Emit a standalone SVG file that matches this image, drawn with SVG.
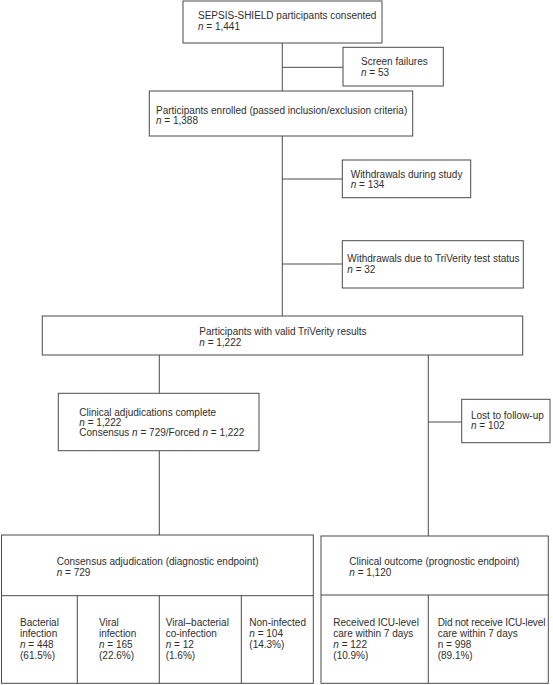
<svg xmlns="http://www.w3.org/2000/svg" width="553" height="685" viewBox="0 0 553 685">
<style>
.box{fill:#fff;stroke:#4a4a4a;stroke-width:1}
.ln{stroke:#4a4a4a;stroke-width:1;fill:none}
text{font-family:"Liberation Sans",Arial,sans-serif;font-size:10px;fill:#2e2e2e}
.i{font-style:italic}
.t{letter-spacing:-0.12px}
</style>
<rect width="553" height="685" fill="#fff"/>
<g id="connectors">
<line class="ln" x1="282.3" y1="43" x2="282.3" y2="91"/>
<line class="ln" x1="282.3" y1="67.3" x2="343" y2="67.3"/>
<line class="ln" x1="282.3" y1="136" x2="282.3" y2="316"/>
<line class="ln" x1="282.3" y1="179" x2="342.3" y2="179"/>
<line class="ln" x1="282.3" y1="264" x2="342.3" y2="264"/>
<line class="ln" x1="159.3" y1="355" x2="159.3" y2="393.3"/>
<line class="ln" x1="159.3" y1="450.7" x2="159.3" y2="535"/>
<line class="ln" x1="428.3" y1="355" x2="428.3" y2="536"/>
<line class="ln" x1="428.3" y1="422" x2="461.7" y2="422"/>
</g>
<g id="consented">
<rect class="box" x="183" y="1" width="199" height="42"/>
<text x="198" y="19.3">SEPSIS-SHIELD participants consented</text>
<text x="198" y="29.8"><tspan class="i">n</tspan> = 1,441</text>
</g>
<g id="screen-failures">
<rect class="box" x="343" y="47.3" width="100.3" height="38.7"/>
<text x="361" y="65">Screen failures</text>
<text x="361" y="75.5"><tspan class="i">n</tspan> = 53</text>
</g>
<g id="enrolled">
<rect class="box" x="149.3" y="91" width="263.4" height="45"/>
<text x="156" y="113.5">Participants enrolled (passed inclusion/exclusion criteria)</text>
<text x="156" y="123.5"><tspan class="i">n</tspan> = 1,388</text>
</g>
<g id="withdrawals-study">
<rect class="box" x="342.3" y="160" width="128.4" height="37.7"/>
<text x="350.7" y="177.5">Withdrawals during study</text>
<text x="350.7" y="188"><tspan class="i">n</tspan> = 134</text>
</g>
<g id="withdrawals-triverity">
<rect class="box" x="342.3" y="240.7" width="181" height="47.3"/>
<text x="347.3" y="262">Withdrawals due to TriVerity test status</text>
<text x="347.3" y="272.5"><tspan class="i">n</tspan> = 32</text>
</g>
<g id="valid-results">
<rect class="box" x="42.3" y="316" width="480.4" height="39"/>
<text x="199.3" y="334.5">Participants with valid TriVerity results</text>
<text x="199.3" y="345.5"><tspan class="i">n</tspan> = 1,222</text>
</g>
<g id="adjudications">
<rect class="box" x="58.3" y="393.3" width="200.7" height="57.4"/>
<text x="79.3" y="415.5">Clinical adjudications complete</text>
<text x="79.3" y="426"><tspan class="i">n</tspan> = 1,222</text>
<text x="79.3" y="436.3">Consensus <tspan class="i">n</tspan> = 729/Forced <tspan class="i">n</tspan> = 1,222</text>
</g>
<g id="lost-follow-up">
<rect class="box" x="461.7" y="399.3" width="88.3" height="43.4"/>
<text x="471" y="418.5">Lost to follow-up</text>
<text x="471" y="429"><tspan class="i">n</tspan> = 102</text>
</g>
<g id="diagnostic">
<rect class="box" x="1.5" y="535" width="311.8" height="148.3"/>
<line class="ln" x1="1.5" y1="595.7" x2="313.3" y2="595.7"/>
<line class="ln" x1="77.3" y1="595.7" x2="77.3" y2="683.3"/>
<line class="ln" x1="159.3" y1="595.7" x2="159.3" y2="683.3"/>
<line class="ln" x1="241.3" y1="595.7" x2="241.3" y2="683.3"/>
<text x="56.7" y="565">Consensus adjudication (diagnostic endpoint)</text>
<text x="56.7" y="575.5"><tspan class="i">n</tspan> = 729</text>
<text x="20" y="626">Bacterial</text>
<text x="20" y="637">infection</text>
<text x="20" y="648"><tspan class="i">n</tspan> = 448</text>
<text x="20" y="659">(61.5%)</text>
<text x="99" y="626">Viral</text>
<text x="99" y="637">infection</text>
<text x="99" y="648"><tspan class="i">n</tspan> = 165</text>
<text x="99" y="659">(22.6%)</text>
<text x="165.7" y="626">Viral–bacterial</text>
<text x="165.7" y="637">co-infection</text>
<text x="165.7" y="648"><tspan class="i">n</tspan> = 12</text>
<text x="165.7" y="659">(1.6%)</text>
<text x="249.3" y="626">Non-infected</text>
<text x="249.3" y="637"><tspan class="i">n</tspan> = 104</text>
<text x="249.3" y="648">(14.3%)</text>
</g>
<g id="prognostic">
<rect class="box" x="321" y="536" width="227.3" height="147.3"/>
<line class="ln" x1="321" y1="595" x2="548.3" y2="595"/>
<line class="ln" x1="428.3" y1="595" x2="428.3" y2="683.3"/>
<text x="349.3" y="565">Clinical outcome (prognostic endpoint)</text>
<text x="349.3" y="575.5"><tspan class="i">n</tspan> = 1,120</text>
<text x="333.3" y="626">Received ICU-level</text>
<text x="333.3" y="637">care within 7 days</text>
<text x="333.3" y="648"><tspan class="i">n</tspan> = 122</text>
<text x="333.3" y="659">(10.9%)</text>
<text class="t" x="437.7" y="626">Did not receive ICU-level</text>
<text x="437.7" y="637">care within 7 days</text>
<text x="437.7" y="648">n = 998</text>
<text x="437.7" y="659">(89.1%)</text>
</g>
</svg>
